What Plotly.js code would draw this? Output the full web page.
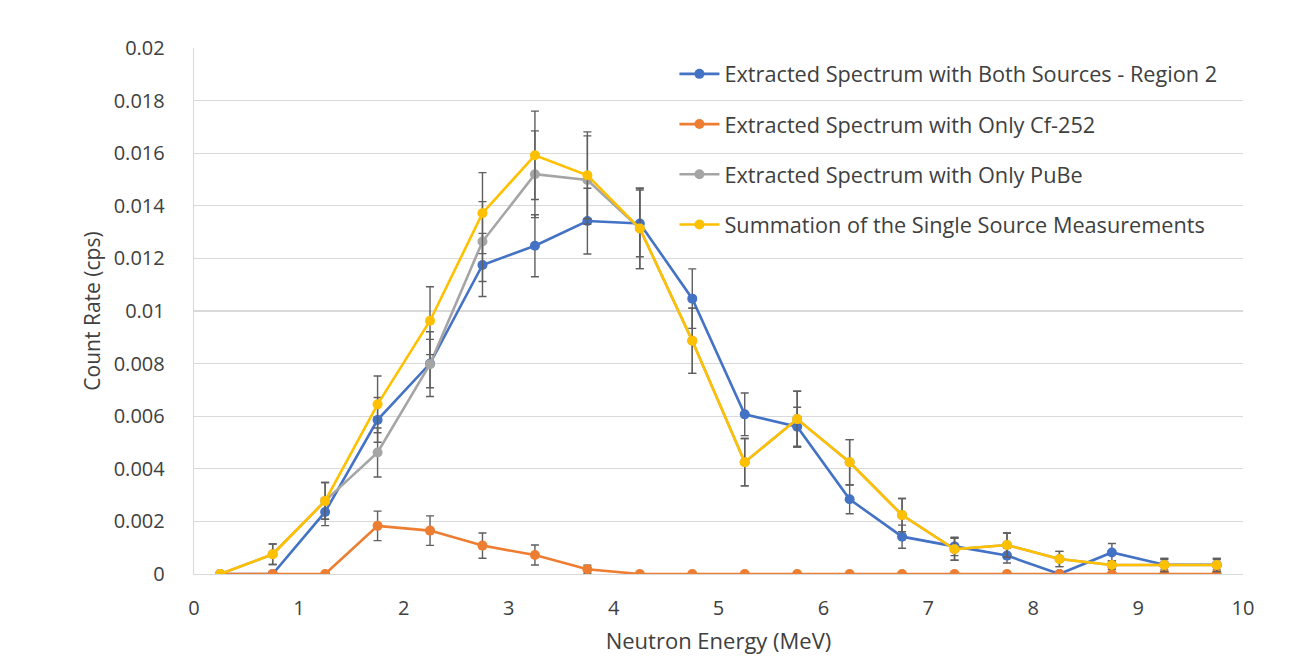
<!DOCTYPE html>
<html>
<head>
<meta charset="utf-8">
<script src="https://cdn.plot.ly/plotly-3.0.1.min.js"></script>
<style>
  html, body { margin: 0; padding: 0; background: #ffffff; }
  #chart { width: 1302px; height: 664px; }
</style>
</head>
<body>
<div id="chart"></div>
<script>
// Neutron energy bin centres (MeV)
const energy = [0.25, 0.75, 1.25, 1.75, 2.25, 2.75, 3.25, 3.75, 4.25, 4.75,
                5.25, 5.75, 6.25, 6.75, 7.25, 7.75, 8.25, 8.75, 9.25, 9.75];

// Count rates (cps) and their uncertainties
const bothSources = [0, 0, 0.00236, 0.00586, 0.0080, 0.01175, 0.01248, 0.01342, 0.01333, 0.01047,
                     0.00607, 0.0056, 0.00284, 0.00142, 0.00105, 0.0007, 0, 0.00082, 0.00035, 0.00035];
const bothErr     = [0, 0, 0.00052, 0.00085, 0.00092, 0.0012, 0.00118, 0.00125, 0.00127, 0.00113,
                     0.00081, 0.00074, 0.00055, 0.00044, 0.00035, 0.00028, 0, 0.00034, 0.0002, 0.0002];

const onlyCf252   = [0, 0, 0, 0.00183, 0.00165, 0.00108, 0.00072, 0.00018, 0, 0,
                     0, 0, 0, 0, 0, 0, 0, 0, 0, 0];
const cf252Err    = [0, 0, 0, 0.00056, 0.00056, 0.00048, 0.00038, 0.00015, 0, 0,
                     0, 0, 0, 0, 0, 0, 0, 0, 0, 0];

const onlyPuBe    = [0, 0.00075, 0.00278, 0.00462, 0.00798, 0.01264, 0.0152, 0.01498, 0.01314, 0.00887,
                     0.00425, 0.00589, 0.00425, 0.00224, 0.00094, 0.0011, 0.00057, 0.00034, 0.00034, 0.00034];
const pubeErr     = [0, 0.00039, 0.0007, 0.00093, 0.00123, 0.00152, 0.00165, 0.00168, 0.00153, 0.00124,
                     0.0009, 0.00106, 0.00086, 0.00063, 0.00042, 0.00046, 0.00029, 0.00016, 0.00025, 0.00025];

const summation   = [0, 0.00075, 0.00278, 0.00645, 0.00963, 0.01372, 0.01592, 0.01516, 0.01314, 0.00887,
                     0.00425, 0.00589, 0.00425, 0.00224, 0.00094, 0.0011, 0.00057, 0.00034, 0.00034, 0.00034];
const sumErr      = [0, 0.00039, 0.0007, 0.00108, 0.00129, 0.00154, 0.00168, 0.00165, 0.00153, 0.00124,
                     0.0009, 0.00106, 0.00086, 0.00063, 0.00042, 0.00046, 0.00029, 0.00016, 0.00025, 0.00025];

const seriesNames = [
  'Extracted Spectrum with Both Sources - Region 2',
  'Extracted Spectrum with Only Cf-252',
  'Extracted Spectrum with Only PuBe',
  'Summation of the Single Source Measurements'
];
const seriesColors = ['#4472C4', '#ED7D31', '#A5A5A5', '#FFC000'];

const xTickVals = [0, 1, 2, 3, 4, 5, 6, 7, 8, 9, 10];
const yTickVals = [0, 0.002, 0.004, 0.006, 0.008, 0.01, 0.012, 0.014, 0.016, 0.018, 0.02];
const yTickText = ['0', '0.002', '0.004', '0.006', '0.008', '0.01', '0.012', '0.014', '0.016', '0.018', '0.02'];

const FONT = '"Open Sans", "Noto Sans", sans-serif';
const TEXT = '#404040';

function series(i, y, err) {
  return {
    type: 'scatter',
    mode: 'lines+markers',
    name: seriesNames[i],
    legendgroup: 'g' + i,
    x: energy,
    y: y,
    line: { color: seriesColors[i], width: 2.6 },
    marker: { color: seriesColors[i], size: 10 },
    error_y: {
      type: 'data', array: err, visible: true,
      color: '#5f5f5f', thickness: 1.4, width: 4
    }
  };
}

const data = [
  series(0, bothSources, bothErr),
  series(1, onlyCf252, cf252Err),
  series(2, onlyPuBe, pubeErr),
  series(3, summation, sumErr)
];

const layout = {
  width: 1302, height: 664,
  margin: { l: 194, r: 59, t: 48, b: 90 },
  paper_bgcolor: '#ffffff',
  plot_bgcolor: '#ffffff',
  font: { family: FONT, color: TEXT, size: 20 },
  showlegend: true,
  legend: {
    x: 0.458, xanchor: 'left', y: 0.99, yanchor: 'top',
    bgcolor: 'rgba(0,0,0,0)', borderwidth: 0,
    traceorder: 'grouped', tracegroupgap: 19,
    itemwidth: 40,
    font: { family: FONT, color: TEXT, size: 21.7 }
  },
  xaxis: {
    range: [0, 10], tickvals: xTickVals, ticktext: xTickVals.map(String),
    showgrid: false, zeroline: false,
    showline: true, linecolor: '#d9d9d9', linewidth: 1.3,
    ticks: '', ticklabelstandoff: 16,
    tickfont: { family: FONT, color: TEXT, size: 20 },
    title: { text: 'Neutron Energy (MeV)', font: { family: FONT, color: TEXT, size: 22 }, standoff: 13 }
  },
  yaxis: {
    range: [0, 0.02], tickvals: yTickVals, ticktext: yTickText,
    showgrid: true, gridcolor: '#d9d9d9', gridwidth: 1.3,
    zeroline: false,
    showline: true, linecolor: '#d9d9d9', linewidth: 1.3,
    ticks: '', ticklabelstandoff: 24,
    tickfont: { family: FONT, color: TEXT, size: 20 },
    title: { text: 'Count Rate (cps)', font: { family: FONT, color: TEXT, size: 21 }, standoff: 7 }
  }
};

Plotly.newPlot('chart', data, layout, { displayModeBar: false, staticPlot: true });
</script>
</body>
</html>
